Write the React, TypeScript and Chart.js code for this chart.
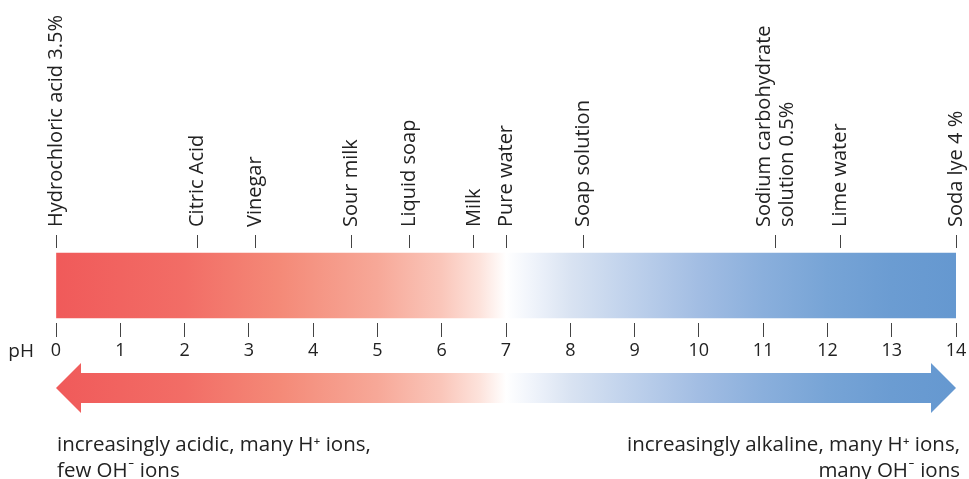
import React, { useEffect, useRef } from "react";
import { Chart, registerables } from "chart.js";

Chart.register(...registerables);

// ---- data ----
const substanceLabels: (string | string[])[] = [
  "Hydrochloric acid 3.5%",
  "Citric Acid",
  "Vinegar",
  "Sour milk",
  "Liquid soap",
  "Milk",
  "Pure water",
  "Soap solution",
  ["Sodium carbohydrate", "solution 0.5%"],
  "Lime water",
  "Soda lye 4 %",
];
const substancePH = [0, 2.2, 3.1, 4.6, 5.5, 6.5, 7, 8.2, 11.2, 12.2, 14];
const phTickValues = [0, 1, 2, 3, 4, 5, 6, 7, 8, 9, 10, 11, 12, 13, 14];
const phRange: [number, number] = [0, 14];
const axisName = "pH";
const acidicText = ["increasingly acidic, many H\u207A ions,", "few OH\u207B ions"];
const alkalineText = ["increasingly alkaline, many H\u207A ions,", "many OH\u207B ions"];

// ---- styles ----
const FONT = "'Open Sans', Lato, sans-serif";
const LABEL_SIZE = 20;
const LINE_H = 22.5;
const CAPTION_SIZE = 20.5;
const gradientStops: [number, string][] = [
  [0, "#F05A5A"],
  [2, "#F26D66"],
  [3.5, "#F48A78"],
  [5, "#F7A898"],
  [6, "#FAC6BA"],
  [6.6, "#FDE3DC"],
  [7, "#FFFFFF"],
  [7.4, "#F0F4FB"],
  [8, "#D9E3F2"],
  [9, "#BDD0EB"],
  [10, "#A2BDE3"],
  [11, "#8AAFDC"],
  [12, "#77A4D6"],
  [13, "#6B9CD2"],
  [14, "#6598D0"],
];

function makeGradient(ctx: CanvasRenderingContext2D, scale: any) {
  const x0 = scale.getPixelForValue(phRange[0]);
  const x1 = scale.getPixelForValue(phRange[1]);
  const g = ctx.createLinearGradient(x0, 0, x1, 0);
  const span = phRange[1] - phRange[0];
  gradientStops.forEach(([v, c]) => g.addColorStop((v - phRange[0]) / span, c));
  return g;
}

const decorPlugin = {
  id: "phDecor",
  beforeDraw(chart: any) {
    // centre multi-line rotated labels on their tick
    const s = chart.scales.xTop;
    const items = s.getLabelItems();
    items.forEach((it: any) => {
      const n = Array.isArray(it.label) ? it.label.length : 1;
      if (n > 1 && !it.__centred) {
        it.options.translation[0] += ((n - 1) * LINE_H) / 2;
        it.__centred = true;
      }
    });
  },
  afterDraw(chart: any) {
    const ctx: CanvasRenderingContext2D = chart.ctx;
    const xs = chart.scales.x;
    const area = chart.chartArea;
    const xL = xs.getPixelForValue(phRange[0]);
    const xR = xs.getPixelForValue(phRange[1]);
    const cy = area.bottom + 65;
    const shaft = 15;
    const head = 25;
    const headLen = 25;

    // double arrow
    ctx.save();
    ctx.beginPath();
    ctx.moveTo(xL, cy);
    ctx.lineTo(xL + headLen, cy - head);
    ctx.lineTo(xL + headLen, cy - shaft);
    ctx.lineTo(xR - headLen, cy - shaft);
    ctx.lineTo(xR - headLen, cy - head);
    ctx.lineTo(xR, cy);
    ctx.lineTo(xR - headLen, cy + head);
    ctx.lineTo(xR - headLen, cy + shaft);
    ctx.lineTo(xL + headLen, cy + shaft);
    ctx.lineTo(xL + headLen, cy + head);
    ctx.closePath();
    ctx.fillStyle = makeGradient(ctx, xs);
    ctx.fill();
    ctx.restore();

    // "pH" axis name
    ctx.save();
    ctx.font = `19px ${FONT}`;
    ctx.fillStyle = "#222";
    ctx.textAlign = "right";
    ctx.textBaseline = "middle";
    ctx.fillText(axisName, xL - 22, area.bottom + 29);
    ctx.restore();

    // bottom captions
    ctx.save();
    ctx.font = `${CAPTION_SIZE}px ${FONT}`;
    ctx.fillStyle = "#222";
    ctx.textBaseline = "alphabetic";
    ctx.textAlign = "left";
    acidicText.forEach((t, i) => ctx.fillText(t, xL + 1, area.bottom + 128 + i * 26));
    ctx.textAlign = "right";
    alkalineText.forEach((t, i) => ctx.fillText(t, xR + 4, area.bottom + 128 + i * 26));
    ctx.restore();
  },
};

export default function App() {
  const ref = useRef<HTMLCanvasElement | null>(null);

  useEffect(() => {
    document.body.style.margin = "0";
    const canvas = ref.current!;
    const chart = new Chart(canvas, {
      type: "bar",
      data: {
        labels: [axisName],
        datasets: [
          {
            data: [phRange as any],
            backgroundColor: (c: any) => {
              const ch = c.chart;
              if (!ch.chartArea) return "#F05A5A";
              return makeGradient(ch.ctx, ch.scales.x);
            },
            borderWidth: 0,
            barThickness: 65,
            xAxisID: "x",
            yAxisID: "y",
          },
        ],
      },
      options: {
        indexAxis: "y",
        responsive: false,
        animation: false,
        layout: { padding: { left: 56, right: 13, top: 0, bottom: 0 } },
        plugins: { legend: { display: false }, tooltip: { enabled: false } },
        scales: {
          x: {
            type: "linear",
            position: "bottom",
            min: phRange[0],
            max: phRange[1],
            afterBuildTicks: (s: any) => {
              s.ticks = phTickValues.map((v) => ({ value: v }));
            },
            afterFit: (s: any) => {
              s.height = 156;
              s.paddingLeft = 0;
              s.paddingRight = 0;
            },
            border: { display: false },
            grid: { drawOnChartArea: false, drawTicks: true, tickLength: 14, color: "#444", lineWidth: 1 },
            ticks: {
              autoSkip: false,
              maxRotation: 0,
              minRotation: 0,
              padding: 3,
              color: "#222",
              font: { family: FONT, size: 18 },
              callback: (v: any) => String(v),
            },
          },
          xTop: {
            type: "linear",
            axis: "x",
            position: "top",
            min: phRange[0],
            max: phRange[1],
            afterBuildTicks: (s: any) => {
              s.ticks = substancePH.map((v) => ({ value: v }));
            },
            afterFit: (s: any) => {
              s.height = 248;
              s.paddingLeft = 0;
              s.paddingRight = 0;
            },
            border: { display: false },
            grid: { drawOnChartArea: false, drawTicks: true, tickLength: 13, color: "#444", lineWidth: 1 },
            ticks: {
              autoSkip: false,
              maxRotation: 90,
              minRotation: 90,
              padding: 8,
              labelOffset: LINE_H,
              color: "#222",
              font: { family: FONT, size: LABEL_SIZE, lineHeight: LINE_H / LABEL_SIZE },
              callback: (_v: any, i: number) => substanceLabels[i],
            },
          },
          y: {
            type: "category",
            display: false,
            offset: true,
          },
        },
      } as any,
      plugins: [decorPlugin],
    });
    return () => chart.destroy();
  }, []);

  return <canvas ref={ref} width={969} height={479} style={{ display: "block" }} />;
}
